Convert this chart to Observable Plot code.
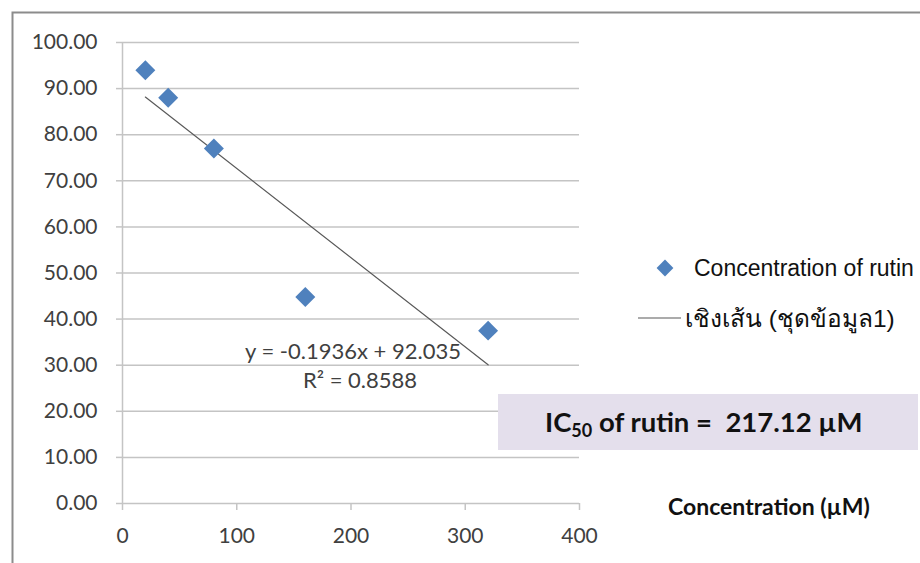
<!DOCTYPE html>
<html>
<head>
<meta charset="utf-8">
<script src="https://cdn.jsdelivr.net/npm/d3@7"></script>
<script src="https://cdn.jsdelivr.net/npm/@observablehq/plot@0.6"></script>
<style>
  html, body { margin: 0; padding: 0; background: #fff; }
  #chart svg { display: block; }
</style>
</head>
<body>
<div id="chart"></div>
<script>
// ---- data ----
const concentrations = [20, 40, 80, 160, 320];
const inhibition = [94.0, 88.0, 77.0, 44.8, 37.5];
const yTicks = [0, 10, 20, 30, 40, 50, 60, 70, 80, 90, 100];
const xTicks = [0, 100, 200, 300, 400];
const trendSlope = -0.1936;
const trendIntercept = 92.035;
const trendRange = [20, 320];
const equationLabel = "y = -0.1936x + 92.035";
const r2Label = "R² = 0.8588";
const seriesName = "Concentration of rutin";
const trendName = "เชิงเส้น (ชุดข้อมูล1)";
const xTitle = "Concentration (µM)";
const ic50Value = "217.12 µM";

const points = concentrations.map((c, i) => ({x: c, y: inhibition[i]}));
const trend = trendRange.map(x => ({x, y: trendSlope * x + trendIntercept}));

const W = 920, H = 563;
const mL = 122, mT = 42, mR = W - 579, mB = H - 503;
const FONT = "Lato, 'Open Sans', sans-serif";

const chart = Plot.plot({
  width: W,
  height: H,
  marginLeft: mL,
  marginTop: mT,
  marginRight: mR,
  marginBottom: mB,
  style: {fontFamily: FONT, background: "#fff", overflow: "visible"},
  x: {domain: [0, 400], label: null},
  y: {domain: [0, 100], label: null},
  marks: [
    Plot.ruleY(yTicks, {stroke: "#c4c4c4", strokeWidth: 1.5}),
    Plot.ruleX([0], {stroke: "#c4c4c4", strokeWidth: 1.5}),
    Plot.axisY(yTicks, {label: null, tickSize: 6, tickPadding: 19, tickFormat: d => d.toFixed(2), fontSize: 21, fill: "#404040", stroke: "#c4c4c4", strokeWidth: 1.5}),
    Plot.axisX(xTicks, {label: null, tickSize: 7, tickPadding: 18, tickFormat: d => String(d), fontSize: 21, fill: "#404040", stroke: "#c4c4c4", strokeWidth: 1.5}),
    Plot.line(trend, {x: "x", y: "y", stroke: "#595959", strokeWidth: 1.2}),
    Plot.dot(points, {x: "x", y: "y", symbol: "diamond2", r: 9, fill: "#4f81bd", stroke: "none"})
  ]
});
document.getElementById("chart").appendChild(chart);

// ---- annotations (layout only) ----
const svg = d3.select(chart);
// outer chart border
svg.append("rect").attr("x", 12.5).attr("y", 12.5).attr("width", W + 20).attr("height", H + 20)
  .attr("fill", "none").attr("stroke", "#8c8c8c").attr("stroke-width", 2);

// equation labels
svg.append("text").attr("x", 353).attr("y", 359).attr("text-anchor", "middle")
  .attr("font-family", FONT).attr("font-size", 22).attr("fill", "#404040")
  .text(equationLabel);
svg.append("text").attr("x", 360).attr("y", 388).attr("text-anchor", "middle")
  .attr("font-family", FONT).attr("font-size", 22).attr("fill", "#404040")
  .text(r2Label);

// legend
const lg = svg.append("g").attr("font-family", "'Liberation Sans', Arial, sans-serif").attr("font-size", 23)
  .attr("fill", "#111").attr("text-anchor", "start");
lg.append("path").attr("d", d3.symbol(d3.symbolDiamond2, 180)()).attr("transform", "translate(665,268)").attr("fill", "#4f81bd");
lg.append("text").attr("x", 694).attr("y", 268).attr("dy", "0.35em").text(seriesName);
lg.append("line").attr("x1", 638).attr("x2", 681).attr("y1", 318).attr("y2", 318).attr("stroke", "#595959").attr("stroke-width", 1.2);
lg.append("text").attr("x", 685).attr("y", 318).attr("dy", "0.35em").attr("font-size", 24.5).text(trendName);

// IC50 box
svg.append("rect").attr("x", 498).attr("y", 394).attr("width", 420).attr("height", 56).attr("fill", "#e4dfec");
const ic = svg.append("text").attr("x", 545).attr("y", 432).attr("text-anchor", "start")
  .style("white-space", "pre")
  .attr("font-family", FONT).attr("font-weight", "bold").attr("font-size", 27.5).attr("fill", "#111");
ic.append("tspan").text("IC");
ic.append("tspan").attr("font-size", 18).attr("dy", 5).text("50");
ic.append("tspan").attr("dy", -5).text(" of rutin =  " + ic50Value);

// x axis title
svg.append("text").attr("x", 668).attr("y", 515).attr("text-anchor", "start")
  .attr("font-family", FONT).attr("font-weight", "bold").attr("font-size", 23).attr("fill", "#111")
  .text(xTitle);
</script>
</body>
</html>
